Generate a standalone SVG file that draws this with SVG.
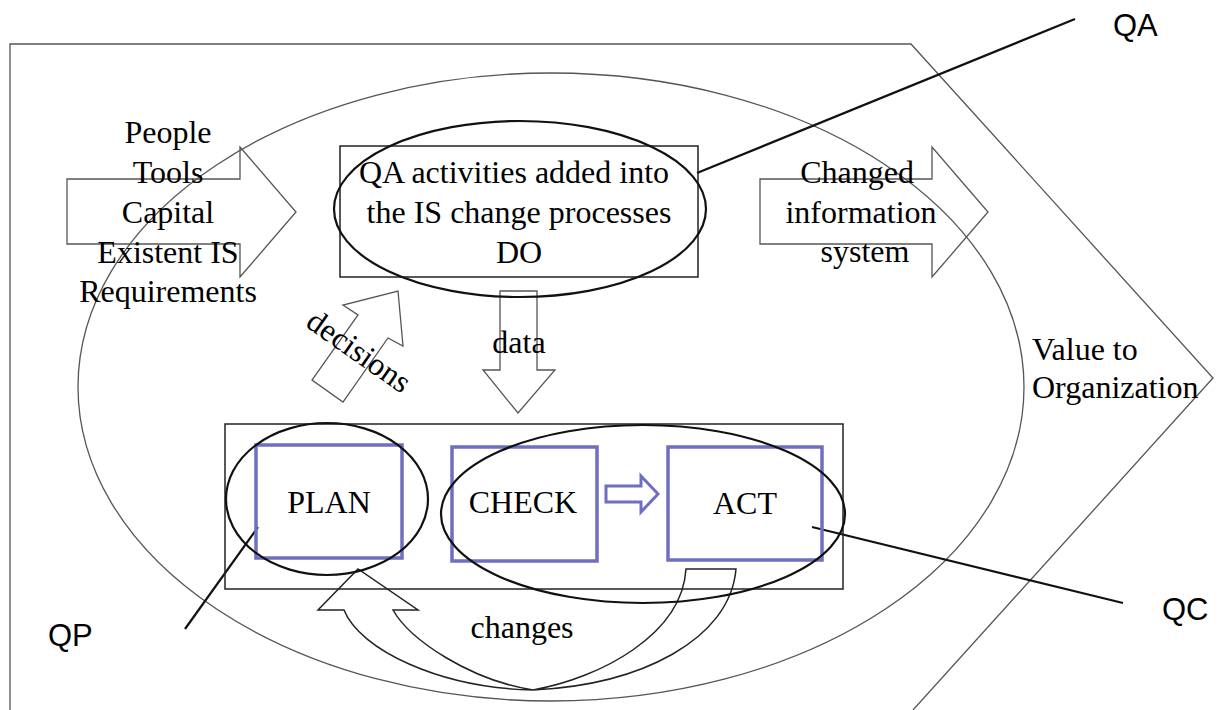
<svg xmlns="http://www.w3.org/2000/svg" width="1221" height="710" viewBox="0 0 1221 710">
<style>
.serif{font-family:"Liberation Serif","Times New Roman",serif;font-size:32px;fill:#000;text-anchor:middle}
.sans{font-family:"Liberation Sans",Arial,sans-serif;font-size:31px;fill:#000}
.thin{fill:none;stroke:#555;stroke-width:1.3}
.blk{fill:none;stroke:#222;stroke-width:1.5}
.ell{fill:none;stroke:#111;stroke-width:2.2}
.blue{fill:none;stroke:#6f6fc2;stroke-width:3.5}
.lead{fill:none;stroke:#111;stroke-width:2.2}
</style>
<rect width="1221" height="710" fill="#fff"/>

<g id="organization">
  <polyline class="thin" stroke="#777" points="10,710 10,44 911,44 1213,378 913,710"/>
  <ellipse class="thin" cx="551" cy="387" rx="473" ry="314"/>
  <text class="serif" style="text-anchor:start" x="1032" y="360">Value to</text>
  <text class="serif" style="text-anchor:start" x="1032" y="398">Organization</text>
</g>

<g id="connectors">
  <polygon id="input-arrow" class="thin" points="67,179 240,179 240,147 296,212 240,277 240,244 67,244"/>
  <polygon id="output-arrow" class="thin" points="760,179 932,179 932,147 988,212 932,277 932,244 760,244"/>
  <polygon id="data-arrow" class="thin" points="500,291 537,291 537,370 555,370 518,413 483,370 500,370"/>
  <polygon id="decisions-arrow" class="thin" points="398,291 403,346 388,338 343,402 312,380 358,315 343,305"/>
  <path id="changes-arrow" class="blk" d="M686,569 L736,569 C730,640 640,685 533,690 C470,680 410,640 393,610 L418,610 L358,569 L318,610 L344,610 C360,650 440,688 533,690 C600,678 682,635 686,569 Z"/>
  <polygon id="check-act-arrow" fill="none" stroke="#6f6fc2" stroke-width="3" points="606,486 641,486 641,476 658,494 641,512 641,502 606,502"/>
  <line class="lead" x1="697" y1="173" x2="1075" y2="19"/>
  <line class="lead" x1="812" y1="527" x2="1123" y2="603"/>
  <line class="lead" x1="258" y1="527" x2="185" y2="629"/>
</g>

<g id="inputs">
  <text class="serif" x="168" y="143">People</text>
  <text class="serif" x="168" y="183">Tools</text>
  <text class="serif" x="168" y="223">Capital</text>
  <text class="serif" x="168" y="263">Existent IS</text>
  <text class="serif" x="168" y="302">Requirements</text>
</g>

<g id="do">
  <rect class="blk" x="340" y="146" width="358" height="131"/>
  <text class="serif" x="514" y="183">QA activities added into</text>
  <text class="serif" x="519" y="223">the IS change processes</text>
  <text class="serif" x="519" y="263">DO</text>
</g>

<g id="output">
  <text class="serif" x="857" y="183">Changed</text>
  <text class="serif" x="861" y="223">information</text>
  <text class="serif" x="865" y="262">system</text>
</g>

<g id="labels">
  <text class="serif" x="519" y="353">data</text>
  <text class="serif" x="353" y="360" transform="rotate(35 353 360)">decisions</text>
  <text class="serif" x="522" y="638">changes</text>
</g>

<g id="cycle">
  <rect class="blk" x="225" y="424" width="618" height="165"/>
</g>
<g id="plan">
  <rect class="blue" x="256" y="445" width="146" height="113"/>
  <text class="serif" x="329" y="513">PLAN</text>
</g>
<g id="check">
  <rect class="blue" x="452" y="447" width="145" height="114"/>
  <text class="serif" x="523" y="513">CHECK</text>
</g>
<g id="act">
  <rect class="blue" x="668" y="447" width="154" height="113"/>
  <text class="serif" x="745" y="514">ACT</text>
</g>

<g id="qa">
  <ellipse class="ell" cx="520" cy="209" rx="186" ry="88"/>
  <text class="sans" x="1113" y="36">QA</text>
</g>
<g id="qp">
  <ellipse class="ell" cx="327" cy="499" rx="101" ry="76"/>
  <text class="sans" x="48" y="646">QP</text>
</g>
<g id="qc">
  <ellipse class="ell" cx="643" cy="514" rx="202" ry="89"/>
  <text class="sans" x="1162" y="620">QC</text>
</g>
</svg>
